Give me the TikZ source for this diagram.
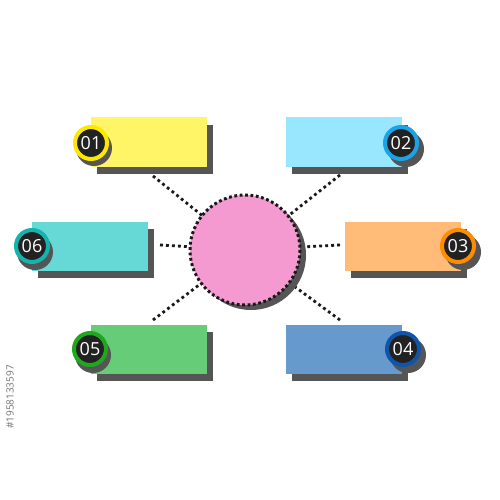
\documentclass[tikz,border=0pt]{standalone}
\usepackage{fontspec}
\setmainfont{Open Sans}
\begin{document}
\begin{tikzpicture}[x=1pt,y=-1pt,
  card/.style={minimum width=116pt,minimum height=49pt,inner sep=0pt,draw=none},
  cardshadow/.style={fill=shadowgray,minimum width=116pt,minimum height=49pt,inner sep=0pt},
  badge/.style={circle,minimum size=32pt,inner sep=0pt,fill=badgedark,line width=4pt,text=white,font=\fontsize{18}{18}\selectfont},
  badgeshadow/.style={circle,minimum size=36pt,inner sep=0pt,fill=shadowgray},
  dots/.style={line width=2.8pt,line cap=butt,dash pattern=on 2.8pt off 3.2pt,black!90}
]
\definecolor{shadowgray}{HTML}{555555}
\definecolor{badgedark}{HTML}{222222}
\definecolor{cyellow}{HTML}{FFF566}
\definecolor{ryellow}{HTML}{FFE800}
\definecolor{cblue}{HTML}{99E6FF}
\definecolor{rblue}{HTML}{1AA3E6}
\definecolor{cteal}{HTML}{66D9D6}
\definecolor{rteal}{HTML}{14B3AE}
\definecolor{corange}{HTML}{FFBB77}
\definecolor{rorange}{HTML}{FF8C00}
\definecolor{cgreen}{HTML}{66CC77}
\definecolor{rgreen}{HTML}{1FA81F}
\definecolor{csteel}{HTML}{6699CC}
\definecolor{rsteel}{HTML}{1155AA}
\definecolor{cpink}{HTML}{F49AD0}
\useasboundingbox (0,0) rectangle (500,500);
\fill[white] (0,0) rectangle (500,500);

% dotted connectors
\coordinate (l1) at (153,176);
\coordinate (l2) at (340,175);
\coordinate (l6) at (160,245);
\coordinate (l3) at (340,245);
\coordinate (l5) at (153,320);
\coordinate (l4) at (340,320);
\node[circle,minimum size=110pt,inner sep=0pt] (hub) at (245,250) {};
\foreach \p in {l1,l2,l6,l3,l5,l4} \draw[dots] (\p) -- (hub);

% central circle
\fill[shadowgray] (251,255) circle (55);
\fill[cpink] (hub.center) circle (55);
\draw[dots,line width=3pt,dash pattern=on 2.8pt off 2.6pt] (hub.center) circle (55);

% card shadows
\node[cardshadow] (s1) at (155,149) {};
\node[cardshadow] (s2) at (350,149) {};
\node[cardshadow] (s6) at (96,253) {};
\node[cardshadow] (s3) at (409,253) {};
\node[cardshadow] (s5) at (155,356) {};
\node[cardshadow] (s4) at (350,356) {};

% cards
\node[card,fill=cyellow] (c1) at (149,142) {};
\node[card,fill=cblue] (c2) at (344,142) {};
\node[card,fill=cteal] (c6) at (90,246) {};
\node[card,fill=corange] (c3) at (403,246) {};
\node[card,fill=cgreen] (c5) at (149,349) {};
\node[card,fill=csteel] (c4) at (344,349) {};

% badge shadows
\node[badgeshadow] (bs1) at (94,148) {};
\node[badgeshadow] (bs2) at (406,149) {};
\node[badgeshadow] (bs6) at (35,252) {};
\node[badgeshadow] (bs3) at (463,252) {};
\node[badgeshadow] (bs5) at (93,355) {};
\node[badgeshadow] (bs4) at (408,355) {};

% badges
\node[badge,draw=ryellow] (b1) at (91,143) {01};
\node[badge,draw=rblue] (b2) at (401,143) {02};
\node[badge,draw=rteal] (b6) at (32,246) {06};
\node[badge,draw=rorange] (b3) at (458,246) {03};
\node[badge,draw=rgreen] (b5) at (90,349) {05};
\node[badge,draw=rsteel] (b4) at (403,349) {04};

% watermark id
\node[rotate=90,text=black!55,font=\fontsize{10}{10}\selectfont] (wm) at (10,397) {\#1958133597};
\end{tikzpicture}
\end{document}
